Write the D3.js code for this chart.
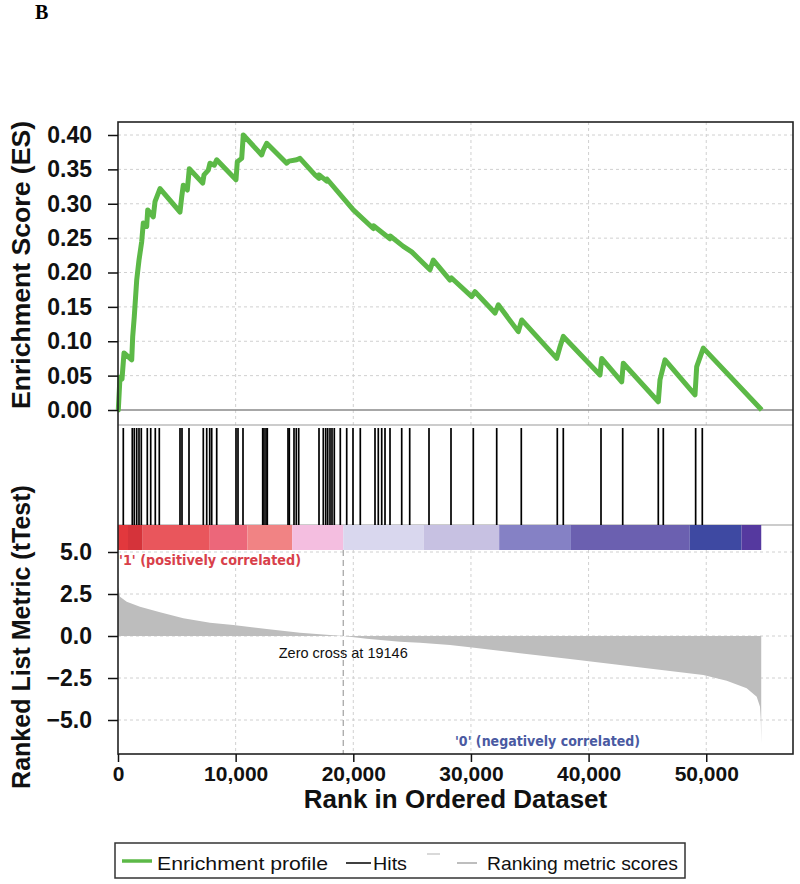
<!DOCTYPE html>
<html>
<head>
<meta charset="utf-8">
<script src="https://cdn.jsdelivr.net/npm/d3@7"></script>
<style>
  body { margin: 0; background: #fff; }
  svg { display: block; font-family: "Liberation Sans", Arial, sans-serif; }
</style>
</head>
<body>
<svg id="chart" width="800" height="884"></svg>
<script>
// running enrichment score, corners
const esRanks = [0, 25, 170, 340, 510, 1165, 1250, 1385, 1590, 1785, 2015, 2150, 2440, 2525, 3000, 3145, 3570,
  5270, 5415, 5550, 5890, 6060, 7200, 7310, 7675, 7820, 8185, 8390, 10030, 10140, 10515, 10650,
  12215, 12350, 12640, 14340, 14535, 15190, 15470, 16745, 17085, 17100, 17740, 17760, 20000, 21700, 21720,
  23120, 23140, 24250, 24965, 26520, 26800, 28220, 28350, 30065, 30345, 32045, 32325, 34025, 34315, 37290,
  37570, 37850, 40970, 41115, 42815, 42950, 45925, 46070, 46495, 49045, 49190, 49750, 54715];
const esValues = [0, 0, 0.048, 0.045, 0.083, 0.073, 0.107, 0.136, 0.189, 0.218, 0.245, 0.272, 0.267, 0.291, 0.281, 0.303, 0.322,
  0.288, 0.310, 0.327, 0.320, 0.351, 0.330, 0.342, 0.349, 0.359, 0.356, 0.364, 0.335, 0.361, 0.366, 0.400,
  0.371, 0.378, 0.388, 0.359, 0.362, 0.364, 0.366, 0.342, 0.337, 0.342, 0.333, 0.336, 0.291, 0.264, 0.268,
  0.249, 0.253, 0.238, 0.230, 0.204, 0.218, 0.189, 0.192, 0.165, 0.172, 0.141, 0.153, 0.114, 0.131, 0.075,
  0.092, 0.107, 0.051, 0.075, 0.041, 0.068, 0.012, 0.044, 0.073, 0.022, 0.063, 0.090, 0.0];

// where the gene set members sit in the ranked list
const hitRanks = [450, 1215, 1385, 1590, 1785, 1980, 2490, 2780, 3170, 3510, 5270, 5440, 6035, 7250, 7540, 7795,
  7965, 8390, 10030, 10200, 10625, 12300, 12410, 12580, 12690, 14450, 14560, 14960, 15155, 15360, 17085,
  17450, 17655, 17825, 18020, 18190, 18385, 18895, 19440, 19975, 20595, 21845, 22125, 22415, 22695, 23120,
  24115, 24795, 26435, 28305, 30200, 32190, 34280, 37340, 37850, 41055, 42900, 45925, 46350, 49100, 49665];

// ranking metric (tTest) along the list
const metricRanks = [0, 25, 170, 740, 1870, 3570, 5550, 7820, 9800, 12640, 15470, 18300, 19146, 21140, 23970,
  25670, 28220, 29920, 34170, 38420, 42670, 46920, 49750, 51740, 53440, 54290, 54570, 54640, 54675];
const metricValues = [2.9, 2.84, 2.34, 2.04, 1.74, 1.41, 1.05, 0.79, 0.65, 0.42, 0.20, 0.04, 0, -0.16, -0.34,
  -0.40, -0.54, -0.67, -1.03, -1.37, -1.73, -2.08, -2.32, -2.66, -3.11, -3.61, -4.21, -5.0, -6.4];

// blocks of the heat bar (rank where each block starts, last = end of list)
const barEdges = [0, 850, 2100, 7800, 11000, 14800, 19146, 26000, 32400, 38500, 48600, 53000, 54675];

const esTicks = [0, 0.05, 0.10, 0.15, 0.20, 0.25, 0.30, 0.35, 0.40];
const metricTicks = [5, 2.5, 0, -2.5, -5];
const rankTicks = [0, 10000, 20000, 30000, 40000, 50000];
const zeroCross = 19146;

const svg = d3.select("#chart");
const plotLeft = 118, plotRight = 793, plotTop = 122, plotBottom = 754;
const esLow = 425, hitTop = 428, barTop = 525, barBottom = 550;

const x = d3.scaleLinear().domain([0, 57375]).range([plotLeft, plotRight]);
const yEs = d3.scaleLinear().domain([0, 0.4]).range([410, 135]);
const yMetric = d3.scaleLinear().domain([-5, 5]).range([720, 552]);

const barColors = ["#e2383d", "#d5333a", "#e9565c", "#ec677a", "#f18384", "#f4bee0", "#d9d7ee",
  "#c7c1e2", "#8581c5", "#6b60b0", "#3e49a2", "#55399f"];

// grid (dotted)
const grid = svg.append("g")
  .attr("stroke", "#d0d0d0")
  .attr("stroke-dasharray", "3,3")
  .attr("stroke-width", 1);
rankTicks.slice(1).forEach(r => {
  grid.append("line").attr("x1", x(r)).attr("x2", x(r)).attr("y1", plotTop).attr("y2", esLow);
  grid.append("line").attr("x1", x(r)).attr("x2", x(r)).attr("y1", barBottom).attr("y2", plotBottom);
});
esTicks.slice(1).forEach(v => {
  grid.append("line").attr("x1", plotLeft).attr("x2", plotRight).attr("y1", yEs(v)).attr("y2", yEs(v));
});
metricTicks.forEach(v => {
  grid.append("line").attr("x1", plotLeft).attr("x2", plotRight).attr("y1", yMetric(v)).attr("y2", yMetric(v));
});

// ranking metric area
const metricPts = metricRanks.map((r, i) => [r, metricValues[i]]);
svg.append("path")
  .datum(metricPts)
  .attr("fill", "#bdbdbd")
  .attr("d", d3.area()
    .x(d => x(d[0]))
    .y0(yMetric(0))
    .y1(d => yMetric(d[1])));

// zero cross marker
svg.append("line")
  .attr("x1", x(zeroCross)).attr("x2", x(zeroCross))
  .attr("y1", barBottom).attr("y2", plotBottom)
  .attr("stroke", "#a0a0a0")
  .attr("stroke-dasharray", "6,4")
  .attr("stroke-width", 1.2);
svg.append("text")
  .attr("x", x(zeroCross)).attr("y", 658)
  .attr("text-anchor", "middle")
  .attr("font-size", 14.5)
  .attr("fill", "#111")
  .text("Zero cross at " + zeroCross);

// ES zero line and panel separators
svg.append("line").attr("x1", plotLeft).attr("x2", plotRight).attr("y1", yEs(0)).attr("y2", yEs(0))
  .attr("stroke", "#8a8a8a").attr("stroke-width", 1.5);
svg.append("line").attr("x1", plotLeft).attr("x2", plotRight).attr("y1", esLow).attr("y2", esLow)
  .attr("stroke", "#9a9a9a").attr("stroke-width", 1.2);
svg.append("line").attr("x1", plotLeft).attr("x2", plotRight).attr("y1", barTop).attr("y2", barTop)
  .attr("stroke", "#9a9a9a").attr("stroke-width", 1.2);

// heat bar
svg.append("g").selectAll("rect")
  .data(barEdges.slice(0, -1))
  .join("rect")
  .attr("x", d => x(d))
  .attr("width", (d, i) => x(barEdges[i + 1]) - x(d))
  .attr("y", barTop)
  .attr("height", barBottom - barTop)
  .attr("fill", (d, i) => barColors[i]);

// hits
svg.append("g").selectAll("line")
  .data(hitRanks)
  .join("line")
  .attr("x1", d => x(d)).attr("x2", d => x(d))
  .attr("y1", hitTop).attr("y2", barTop)
  .attr("stroke", "#000")
  .attr("stroke-width", 1.7);

// enrichment profile
const esPts = esRanks.map((r, i) => [r, esValues[i]]);
svg.append("path")
  .datum(esPts)
  .attr("fill", "none")
  .attr("stroke", "#5cb947")
  .attr("stroke-width", 5)
  .attr("stroke-linejoin", "round")
  .attr("d", d3.line().x(d => x(d[0])).y(d => yEs(d[1])));

// frame
svg.append("rect")
  .attr("x", plotLeft).attr("y", plotTop)
  .attr("width", plotRight - plotLeft).attr("height", plotBottom - plotTop)
  .attr("fill", "none")
  .attr("stroke", "#222")
  .attr("stroke-width", 1.6);

// axes
const styleAxis = size => g => {
  g.select(".domain").remove();
  g.selectAll(".tick line").attr("stroke", "#111").attr("stroke-width", 1.5);
  g.selectAll("text")
    .attr("font-family", "'Liberation Sans', Arial, sans-serif")
    .attr("font-size", size)
    .attr("font-weight", "bold")
    .attr("fill", "#111");
};

svg.append("g")
  .attr("transform", `translate(${plotLeft},0)`)
  .call(d3.axisLeft(yEs).tickValues(esTicks).tickFormat(d3.format(".2f")).tickSize(10).tickPadding(16))
  .call(styleAxis(23));

svg.append("g")
  .attr("transform", `translate(${plotLeft},0)`)
  .call(d3.axisLeft(yMetric).tickValues(metricTicks).tickFormat(d3.format(".1f")).tickSize(10).tickPadding(16))
  .call(styleAxis(23));

svg.append("g")
  .attr("transform", `translate(0,${plotBottom})`)
  .call(d3.axisBottom(x).tickValues(rankTicks).tickFormat(d3.format(",")).tickSize(8).tickPadding(4))
  .call(styleAxis(21));

// axis titles
svg.append("text")
  .attr("transform", "translate(30,265) rotate(-90)")
  .attr("text-anchor", "middle")
  .attr("font-size", 25)
  .attr("font-weight", "bold")
  .attr("fill", "#111")
  .attr("textLength", 288)
  .attr("lengthAdjust", "spacingAndGlyphs")
  .text("Enrichment Score (ES)");

svg.append("text")
  .attr("transform", "translate(30,637) rotate(-90)")
  .attr("text-anchor", "middle")
  .attr("font-size", 25)
  .attr("font-weight", "bold")
  .attr("fill", "#111")
  .text("Ranked List Metric (tTest)");

svg.append("text")
  .attr("x", (plotLeft + plotRight) / 2).attr("y", 808)
  .attr("text-anchor", "middle")
  .attr("font-size", 26)
  .attr("font-weight", "bold")
  .attr("fill", "#111")
  .text("Rank in Ordered Dataset");

// phenotype labels
svg.append("text")
  .attr("x", 119).attr("y", 565)
  .attr("font-family", "'DejaVu Sans', Verdana, sans-serif")
  .attr("font-size", 14)
  .attr("font-weight", "bold")
  .attr("fill", "#d8404a")
  .attr("textLength", 182)
  .attr("lengthAdjust", "spacingAndGlyphs")
  .text("'1' (positively correlated)");

svg.append("text")
  .attr("x", 455).attr("y", 746)
  .attr("font-family", "'DejaVu Sans', Verdana, sans-serif")
  .attr("font-size", 14)
  .attr("font-weight", "bold")
  .attr("fill", "#4a5aa2")
  .attr("textLength", 185)
  .attr("lengthAdjust", "spacingAndGlyphs")
  .text("'0' (negatively correlated)");

// panel letter
svg.append("text")
  .attr("x", 35).attr("y", 19)
  .attr("font-family", "'Liberation Serif', 'Times New Roman', serif")
  .attr("font-size", 20)
  .attr("font-weight", "bold")
  .text("B");

// legend
const legend = svg.append("g");
legend.append("rect")
  .attr("x", 115).attr("y", 843)
  .attr("width", 570).attr("height", 35)
  .attr("fill", "#fff")
  .attr("stroke", "#333")
  .attr("stroke-width", 1.5);

const legendItems = [
  { label: "Enrichment profile", x1: 122, x2: 152, y: 861, color: "#5cb947", width: 3.5, tx: 157, len: 171 },
  { label: "Hits", x1: 346, x2: 371, y: 863, color: "#000", width: 1.5, tx: 373, len: 34 },
  { label: "", x1: 427, x2: 440, y: 854, color: "#c0c0c0", width: 1.2, tx: 0, len: 0 },
  { label: "Ranking metric scores", x1: 457, x2: 477, y: 863, color: "#a8a8a8", width: 1.5, tx: 487, len: 191 }
];
legendItems.forEach(d => {
  legend.append("line")
    .attr("x1", d.x1).attr("x2", d.x2).attr("y1", d.y).attr("y2", d.y)
    .attr("stroke", d.color).attr("stroke-width", d.width);
  if (d.label) {
    legend.append("text")
      .attr("x", d.tx).attr("y", 870)
      .attr("font-size", 19)
      .attr("fill", "#111")
      .attr("textLength", d.len)
      .attr("lengthAdjust", "spacingAndGlyphs")
      .text(d.label);
  }
});
</script>
</body>
</html>
